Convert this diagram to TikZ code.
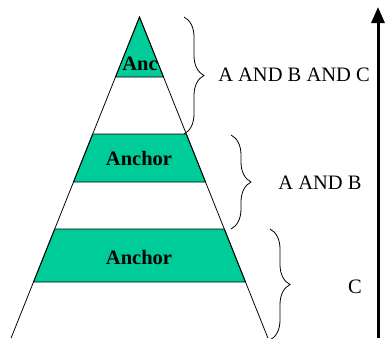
\documentclass[tikz,border=0pt]{standalone}
\usepackage{fontspec}
\setmainfont{Liberation Serif}
\usetikzlibrary{decorations.pathreplacing, arrows.meta}
\definecolor{anchorgreen}{RGB}{0,204,153}

\begin{document}
\begin{tikzpicture}[x=1pt, y=-1pt, every node/.style={font=\fontsize{20.5}{20.5}\selectfont, inner sep=0pt},
  band/.style={fill=anchorgreen, draw=black, line width=0.8pt},
  brace/.style={decorate, decoration={brace, amplitude=20pt}, line width=0.8pt}]
  \useasboundingbox (0,0) rectangle (385,338);

  % green bands
  \filldraw[band] (139.5,17) -- (163.5,77) -- (115.5,77) -- cycle;
  \filldraw[band] (92.7,134) -- (186.3,134) -- (205.5,182) -- (73.5,182) -- cycle;
  \filldraw[band] (54.7,229) -- (224.3,229) -- (245.5,282) -- (33.5,282) -- cycle;
  \draw[line width=0.8pt] (11.1,338) -- (139.5,17) -- (267.9,338);

  \node (anc) at (140,64) {\textbf{Anc}};
  \node (anchor1) at (139,158) {\textbf{Anchor}};
  \node (anchor2) at (139,257) {\textbf{Anchor}};

  % braces
  \coordinate (b1s) at (184,17);
  \coordinate (b1e) at (184,134);
  \coordinate (b2s) at (231,135);
  \coordinate (b2e) at (231,229);
  \coordinate (b3s) at (270,229);
  \coordinate (b3e) at (270,340);
  \draw[brace] (b1s) -- (b1e);
  \draw[brace] (b2s) -- (b2e);
  \draw[brace] (b3s) -- (b3e);

  \node (abc) at (294,75) {A AND B AND C};
  \node (ab) at (320,183) {A AND B};
  \node (c) at (355,287) {C};

  \coordinate (low) at (378,338);
  \coordinate (high) at (378,7);
  \draw[line width=3pt, -{Triangle[length=16pt, width=13pt]}] (low) -- (high);
\end{tikzpicture}
\end{document}
